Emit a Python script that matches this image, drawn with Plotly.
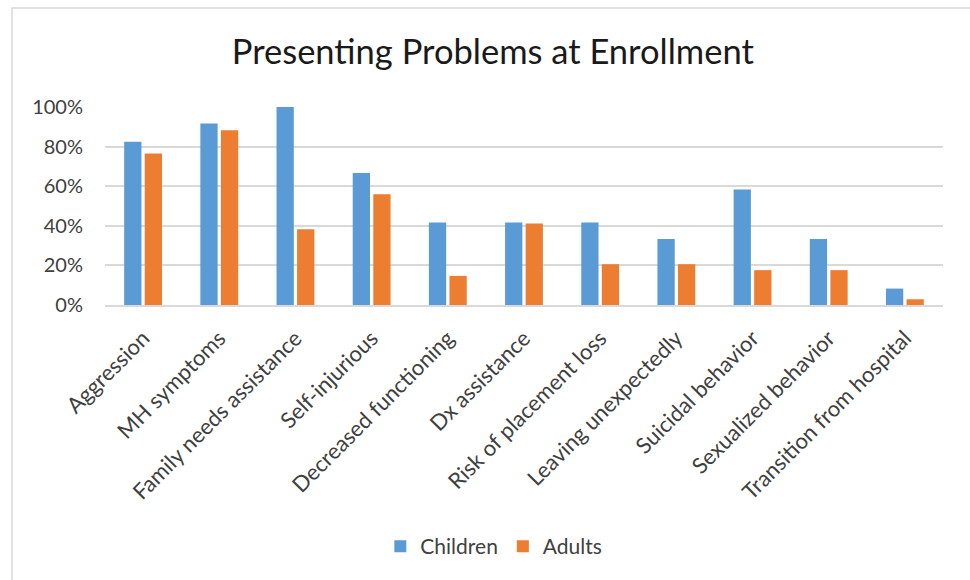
import plotly.graph_objects as go

categories = ["Aggression", "MH symptoms", "Family needs assistance", "Self-injurious",
              "Decreased functioning", "Dx assistance", "Risk of placement loss",
              "Leaving unexpectedly", "Suicidal behavior", "Sexualized behavior",
              "Transition from hospital"]
children = [82.5, 91.7, 100, 66.7, 41.7, 41.7, 41.7, 33.3, 58.3, 33.3, 8.3]
adults = [76.5, 88.2, 38.2, 55.9, 14.7, 41.2, 20.6, 20.6, 17.6, 17.6, 2.9]
y_ticks = [0, 20, 40, 60, 80, 100]
y_tick_labels = ["0%", "20%", "40%", "60%", "80%", "100%"]

FONT = "Lato, 'Open Sans', sans-serif"
TXT = "#404040"

fig = go.Figure()
fig.add_trace(go.Bar(x=categories, y=children, name="Children",
                     marker=dict(color="#5B9BD5", line=dict(width=0))))
fig.add_trace(go.Bar(x=categories, y=adults, name="Adults",
                     marker=dict(color="#ED7D31", line=dict(width=0))))

fig.update_layout(
    width=970, height=580,
    margin=dict(l=105, r=27, t=107, b=275),
    paper_bgcolor="white", plot_bgcolor="white",
    barmode="group", bargap=0.46, bargroupgap=0.16,
    title=dict(text="Presenting Problems at Enrollment", x=0.508, xanchor="center",
               y=1 - 52 / 580, yanchor="middle",
               font=dict(family=FONT, size=34.5, color="#1a1a1a")),
    font=dict(family=FONT, size=21, color=TXT),
    showlegend=True,
    legend=dict(orientation="h", x=0.464, xanchor="center", y=-1.22, yanchor="middle",
                font=dict(family=FONT, size=21, color=TXT), itemwidth=30,
                traceorder="normal"),
    shapes=[dict(type="rect", xref="paper", yref="paper",
                 x0=(12 - 105) / 838, x1=(975 - 105) / 838,
                 y0=-(590 - 305) / 198, y1=1 + (107 - 8) / 198,
                 line=dict(color="#d9d9d9", width=1.5), fillcolor="rgba(0,0,0,0)",
                 layer="below")],
)
fig.update_yaxes(range=[0, 100], tickmode="array", tickvals=y_ticks, ticktext=y_tick_labels,
                 showgrid=True, gridcolor="#d9d9d9", gridwidth=1.5,
                 zeroline=False, showline=False, ticks="",
                 ticklabelstandoff=21,
                 tickfont=dict(family=FONT, size=20, color=TXT))
fig.update_xaxes(tickangle=-45, showline=True, linecolor="#d9d9d9", linewidth=1.5,
                 ticks="", tickfont=dict(family=FONT, size=22, color=TXT),
                 ticklabelstandoff=10)

fig.write_html("out.html")
